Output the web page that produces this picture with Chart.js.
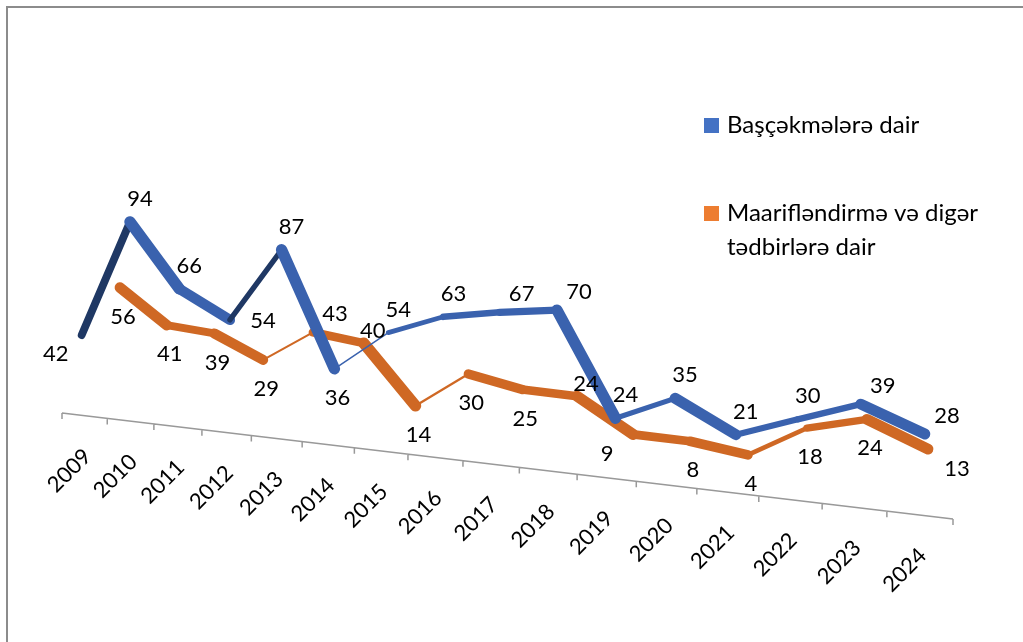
<!DOCTYPE html>
<html>
<head>
<meta charset="utf-8">
<script src="https://cdn.jsdelivr.net/npm/chart.js@4.4.1/dist/chart.umd.min.js"></script>
<style>
  html, body { margin: 0; padding: 0; background: #fff; }
  #wrap { position: relative; width: 1023px; height: 642px; }
</style>
</head>
<body>
<div id="wrap"><canvas id="chart" width="1023" height="642"></canvas></div>
<script>
var years = ['2009', '2010', '2011', '2012', '2013', '2014', '2015', '2016',
             '2017', '2018', '2019', '2020', '2021', '2022', '2023', '2024'];
var basqekme = [42, 94, 66, 54, 87, 36, 54, 63, 67, 70, 24, 35, 21, 30, 39, 28];
var maariflendirme = [56, 41, 39, 29, 43, 40, 14, 30, 25, 24, 9, 8, 4, 18, 24, 13];
var seriesNames = ['Başçəkmələrə dair', 'Maarifləndirmə və digər tədbirlərə dair'];

// where each value label sits around its point (like the excel 3d chart)
var basqekmeLabelPos = ['sw', 'n', 'n', 'e', 'n', 's', 'n', 'n', 'ne', 'ne', 'n', 'n', 'n', 'n', 'ne', 'ne'];
var maarifLabelPos = ['s', 's', 's', 's', 'ne', 'up', 's', 's', 's', 'up', 'sw', 's', 's', 's', 's', 'se'];

var FONT = 'Lato, "Noto Sans", sans-serif';
var labelOffset = {
  n: [10, -23], s: [3, 29], e: [33, 1], sw: [-26, 19],
  ne: [22, -18], se: [29, 20], up: [9, -12]
};

// fake 3d: perspective on x, floor tilt on y, ribbon depth direction
var PLOT_LEFT = 62, PLOT_W = 891;
var DATA_BEND = 0.16, AXIS_BEND = 0.2, TILT = 0.08;
var AXIS_Y0 = 413, AXIS_SLOPE = 0.119;
var DEPTH = 10;

function bend(u, b) { return (1 - b) * u + b * u * u; }

// how much of the ribbon's top face shows; sign tells which face we see
function facing(p0, p1) {
  var dx = p1.x - p0.x, dy = p1.y - p0.y;
  var len = Math.sqrt(dx * dx + dy * dy) || 1;
  var u = ((p0.x + p1.x) / 2 - PLOT_LEFT) / PLOT_W;
  var m = -0.5 - 0.5 * Math.max(0, Math.min(1, u));
  var dn = Math.sqrt(1 + m * m);
  return (dx * (m / dn) - dy * (1 / dn)) / len;
}

function ribbon(main, dark) {
  return {
    borderWidth: function (c) { return 1.5 + DEPTH * Math.abs(facing(c.p0, c.p1)); },
    borderColor: function (c) { return facing(c.p0, c.p1) > 0.15 ? dark : main; }
  };
}

var frame = {
  id: 'frame',
  beforeDraw: function (chart) {
    var c = chart.ctx;
    c.save();
    c.fillStyle = '#fff';
    c.fillRect(0, 0, chart.width, chart.height);
    c.fillStyle = '#8c8c8c';
    c.fillRect(6, 6, 2, chart.height - 6);
    c.fillRect(6, 6, chart.width - 6, 2);
    c.restore();
  }
};

var projection = {
  id: 'projection',
  afterDatasetsUpdate: function (chart) {
    var a = chart.chartArea, w = a.right - a.left;
    chart.data.datasets.forEach(function (ds, di) {
      var meta = chart.getDatasetMeta(di);
      meta.data.forEach(function (pt) {
        var x = a.left + w * bend((pt.x - a.left) / w, DATA_BEND);
        pt.x = x;
        pt.y = pt.y + TILT * (x - a.left);
      });
      if (meta.dataset) {
        delete meta.dataset._segments;
        meta.dataset._path = undefined;
      }
    });
  }
};

var axis = {
  id: 'slantAxis',
  beforeDatasetsDraw: function (chart) {
    var c = chart.ctx, a = chart.chartArea, w = a.right - a.left;
    var xc = chart.scales.xc;
    var n = xc.getLabels().length;
    var half = (xc.getPixelForValue(1) - xc.getPixelForValue(0)) / 2;
    function ax(px) { return a.left + w * bend((px - a.left) / w, AXIS_BEND); }
    function ay(x) { return AXIS_Y0 + AXIS_SLOPE * (x - a.left); }

    c.save();
    c.strokeStyle = '#999999';
    c.lineWidth = 1.5;
    c.beginPath();
    c.moveTo(ax(a.left), ay(ax(a.left)));
    c.lineTo(ax(a.right), ay(ax(a.right)));
    for (var i = 0; i <= n; i++) {
      var x = ax(xc.getPixelForValue(Math.min(i, n - 1)) + (i < n ? -half : half));
      c.moveTo(x, ay(x));
      c.lineTo(x, ay(x) + 6);
    }
    c.stroke();

    c.fillStyle = '#000';
    c.font = '22px ' + FONT;
    c.textAlign = 'right';
    c.textBaseline = 'middle';
    for (var j = 0; j < n; j++) {
      var cx = ax(xc.getPixelForValue(j));
      c.save();
      c.translate(cx + 3, ay(cx) + 37);
      c.rotate(-Math.PI / 4);
      c.fillText(xc.getLabelForValue(j), 0, 0);
      c.restore();
    }
    c.restore();
  }
};

var valueLabels = {
  id: 'valueLabels',
  afterDatasetsDraw: function (chart) {
    var c = chart.ctx;
    c.save();
    c.fillStyle = '#000';
    c.font = '22px ' + FONT;
    c.textAlign = 'center';
    c.textBaseline = 'middle';
    chart.data.datasets.forEach(function (ds, di) {
      var meta = chart.getDatasetMeta(di);
      meta.data.forEach(function (pt, i) {
        var off = labelOffset[ds.labelPos[i]];
        c.fillText(String(ds.data[i].y), pt.x + off[0], pt.y + off[1]);
      });
    });
    c.restore();
  }
};

var sideLegend = {
  id: 'sideLegend',
  afterDraw: function (chart) {
    var c = chart.ctx;
    var tops = [118, 206];
    c.save();
    c.font = '24px ' + FONT;
    c.textBaseline = 'alphabetic';
    c.textAlign = 'left';
    chart.data.datasets.forEach(function (ds, di) {
      c.fillStyle = ds.legendColor;
      c.fillRect(704, tops[di], 15, 15);
      // wrap long names like excel does
      var words = ds.label.split(' '), lines = [], line = '';
      words.forEach(function (wd) {
        var test = line ? line + ' ' + wd : wd;
        if (c.measureText(test).width > 285 && line) { lines.push(line); line = wd; }
        else line = test;
      });
      lines.push(line);
      c.fillStyle = '#000';
      lines.forEach(function (ln, k) {
        c.fillText(ln, 727, tops[di] + 15 + k * 34);
      });
    });
    c.restore();
  }
};

var ctx = document.getElementById('chart').getContext('2d');

var chart = new Chart(ctx, {
  type: 'line',
  data: {
    labels: years,
    datasets: [{
      label: seriesNames[0],
      data: basqekme.map(function (v, i) { return { x: i, y: v }; }),
      xAxisID: 'xb',
      yAxisID: 'yb',
      borderColor: '#3a62ae',
      legendColor: '#4472c4',
      labelPos: basqekmeLabelPos,
      segment: ribbon('#3a62ae', '#1f3864'),
      borderCapStyle: 'round',
      borderJoinStyle: 'round',
      pointRadius: 0,
      tension: 0,
      clip: false
    }, {
      label: seriesNames[1],
      data: maariflendirme.map(function (v, i) { return { x: i, y: v }; }),
      xAxisID: 'xo',
      yAxisID: 'yo',
      borderColor: '#cf6824',
      legendColor: '#ed7d31',
      labelPos: maarifLabelPos,
      segment: ribbon('#cf6824', '#a5521b'),
      borderCapStyle: 'round',
      borderJoinStyle: 'round',
      pointRadius: 0,
      tension: 0,
      clip: false
    }]
  },
  options: {
    responsive: false,
    animation: false,
    events: [],
    layout: { padding: { left: 62, right: 70, top: 10, bottom: 214 } },
    plugins: {
      legend: { display: false },
      tooltip: { enabled: false }
    },
    scales: {
      xc: { type: 'category', axis: 'x', display: false, offset: true },
      xb: { type: 'linear', axis: 'x', display: false, min: -0.415, max: 15.432 },
      xo: { type: 'linear', axis: 'x', display: false, min: -1.274, max: 15.405 },
      yb: { type: 'linear', axis: 'y', display: false, min: 0, max: 185.78 },
      yo: { type: 'linear', axis: 'y', display: false, min: -8.44, max: 177.33 }
    }
  },
  plugins: [frame, axis, projection, valueLabels, sideLegend]
});
</script>
</body>
</html>
